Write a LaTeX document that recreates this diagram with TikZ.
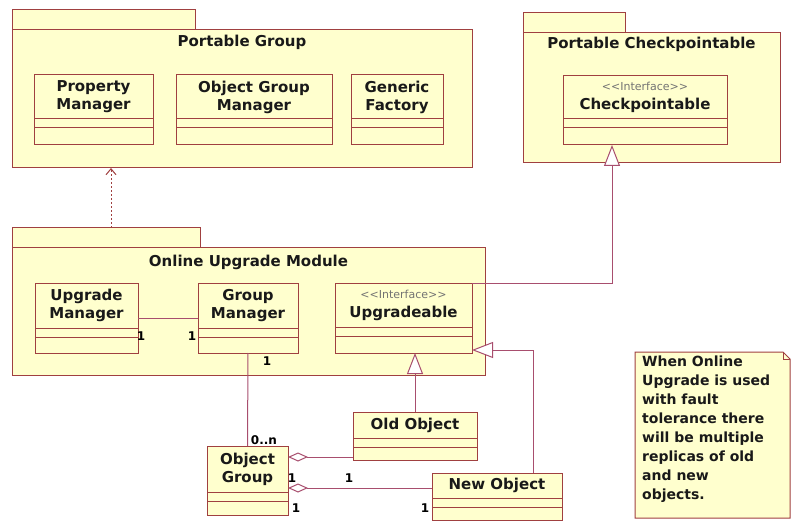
\documentclass[tikz,border=0pt]{standalone}
\usepackage{fontspec}
\setmainfont{DejaVu Sans}
\usetikzlibrary{calc}
\usetikzlibrary{arrows.meta}

\definecolor{umlline}{RGB}{160,64,64}
\definecolor{umlfill}{RGB}{255,255,206}
\definecolor{umllink}{RGB}{168,78,110}

\tikzset{
  pkg/.style={draw=umlline, fill=umlfill, line width=1pt, inner sep=0pt, outer sep=0pt, anchor=north west},
  cls/.style={draw=umlline, fill=umlfill, line width=1pt, inner sep=0pt, outer sep=0pt, anchor=north west},
  title/.style={font=\fontsize{15}{17}\selectfont\bfseries, text=black!90, inner sep=0pt},
  clsname/.style={font=\fontsize{15}{18}\selectfont\bfseries, text=black!90, align=center, inner sep=0pt},
  mult/.style={font=\fontsize{12}{14}\selectfont\bfseries, inner sep=0pt},
  notetext/.style={font=\fontsize{14}{19}\selectfont\bfseries, text=black!90, align=left, inner sep=0pt, anchor=north west},
  assoc/.style={draw=umllink, line width=1pt},
  realize/.style={assoc, -{Triangle[fill=white, length=21pt, width=16pt]}},
  agg/.style={assoc, {Diamond[fill=white, length=20pt, width=9pt]}-},
  dep/.style={draw=umlline, line width=1pt, dash pattern=on 2pt off 2pt, -{Straight Barb[length=6pt, width=10pt]}},
}

% stereotype line of an interface
\newcommand{\stereotag}{{\fontsize{11}{13}\selectfont\mdseries\color{black!55}<{}<Interface>{}>}}

% #1 name, #2 corner, #3 width, #4 height, #5 name compartment, #6 label
\newcommand{\umlclass}[6]{%
  \node[cls, minimum width=#3, minimum height=#4] (#1) at #2 {};
  \draw[umlline, line width=1pt] ([yshift=-#5]#1.north west) -- ([yshift=-#5]#1.north east);
  \draw[umlline, line width=1pt] ([yshift=-#5-9]#1.north west) -- ([yshift=-#5-9]#1.north east);
  \node[clsname] (#1-name) at ($(#1.north)+(0,#5/2)$) {#6};
}

\begin{document}
\begin{tikzpicture}[x=1pt, y=-1pt]
  \useasboundingbox (0,0) rectangle (792,521);

  % packages
  \node[pkg, minimum width=460, minimum height=138] (pg) at (12,30) {};
  \node[pkg, minimum width=183, minimum height=20, anchor=south west] (pg-tab) at (pg.north west) {};
  \node[title] (pg-title) at ($(pg.north)+(0,12)$) {Portable Group};

  \node[pkg, minimum width=257, minimum height=130] (pc) at (523,33) {};
  \node[pkg, minimum width=102, minimum height=20, anchor=south west] (pc-tab) at (pc.north west) {};
  \node[title] (pc-title) at ($(pc.north)+(0,11)$) {Portable Checkpointable};

  \node[pkg, minimum width=473, minimum height=127] (oum) at (12,248) {};
  \node[pkg, minimum width=188, minimum height=20, anchor=south west] (oum-tab) at (oum.north west) {};
  \node[title] (oum-title) at ($(oum.north)+(0,14)$) {Online Upgrade Module};

  % classes
  \umlclass{pm}{(34,75)}{119}{70}{44}{Property\\Manager}
  \umlclass{ogm}{(176,75)}{156}{70}{44}{Object Group\\Manager}
  \umlclass{gf}{(351,75)}{92}{70}{44}{Generic\\Factory}
  \umlclass{cp}{(563,76)}{164}{69}{43}{\stereotag\\[1pt]Checkpointable}

  \umlclass{um}{(35,283)}{103}{70}{45}{Upgrade\\Manager}
  \umlclass{gm}{(198,283)}{100}{70}{45}{Group\\Manager}
  \umlclass{upg}{(335,283)}{137}{70}{44}{\stereotag\\[1pt]Upgradeable}

  \umlclass{old}{(353,412)}{124}{48}{26}{Old Object}
  \umlclass{og}{(207,446)}{81}{69}{46}{Object\\Group}
  \umlclass{newo}{(432,473)}{130}{47}{25}{New Object}

  % connectors
  \draw[dep] ([xshift=5]oum-tab.north) -- ([xshift=5]oum-tab.north |- pg.south);
  \draw[realize] (upg.north east) -| ([xshift=-33]cp.south);
  \draw[realize] (old.north) -- (old.north |- upg.south);
  \draw[realize] ([xshift=36]newo.north) |- ([yshift=3]upg.south east);

  \draw[assoc] (um.east) -- (gm.west);
  \draw[assoc] (gm.south) -- (og.north);
  \draw[agg] ([yshift=23.5]og.east) -- ([yshift=23.5]og.east -| old.west);
  \draw[agg] ([yshift=-7.5]og.east) -- ([yshift=-7.5]og.east -| newo.west);

  % multiplicities
  \node[mult] (m-um) at (141,336) {1};
  \node[mult] (m-gm) at (192,336) {1};
  \node[mult] (m-gm2) at (267,361) {1};
  \node[mult] (m-og) at (264,440) {0..n};
  \node[mult] (m-og1) at (292,478) {1};
  \node[mult] (m-old) at (349,478) {1};
  \node[mult] (m-og2) at (296,508) {1};
  \node[mult] (m-new) at (425,508) {1};

  % note
  \coordinate (note-nw) at (635,352);
  \coordinate (note-se) at (790,518);
  \draw[umlline, fill=umlfill, line width=1pt]
    (note-nw) -- ($(note-se |- note-nw)+(-7,0)$) -- ($(note-se |- note-nw)+(0,7)$)
    -- (note-se) -- (note-nw |- note-se) -- cycle;
  \draw[umlline, line width=0.8pt]
    ($(note-se |- note-nw)+(-7,0)$) |- ($(note-se |- note-nw)+(0,7)$);
  \node[notetext] (note) at (642,356) {When Online\\Upgrade is used\\with fault\\tolerance there\\will be multiple\\replicas of old\\and new\\objects.};
\end{tikzpicture}
\end{document}
